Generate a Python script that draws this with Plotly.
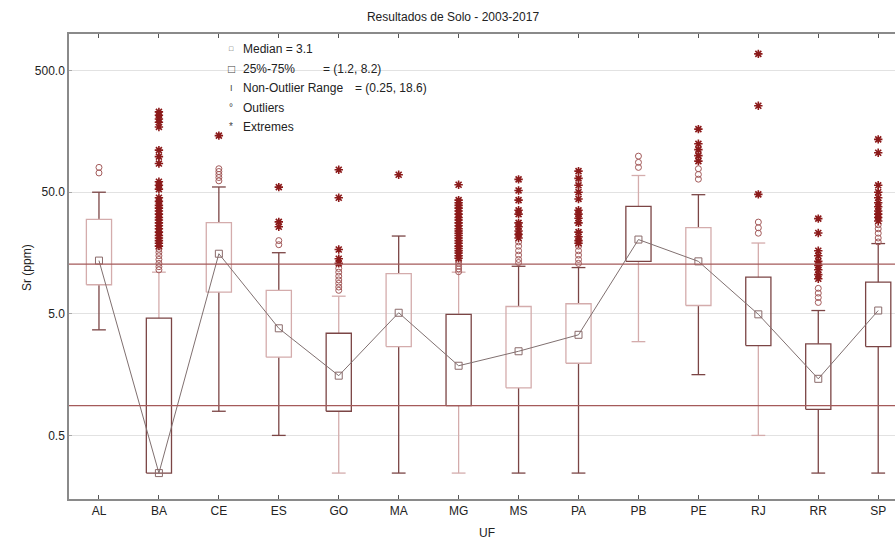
import plotly.graph_objects as go

# ---------------- data ----------------
categories = ["AL", "BA", "CE", "ES", "GO", "MA", "MG", "MS", "PA", "PB", "PE", "RJ", "RR", "SP"]

q1 = [8.67, 0.245, 7.53, 2.2, 0.79, 2.69, 0.88, 1.23, 1.96, 13.5, 5.85, 2.74, 0.82, 2.69]
medians = [13.7, 0.245, 15.6, 3.8, 1.55, 5.1, 1.87, 2.46, 3.36, 20.4, 13.5, 4.95, 1.46, 5.32]
q3 = [29.9, 4.6, 28.1, 7.78, 3.46, 10.7, 4.95, 5.74, 6.05, 38.3, 25.6, 10.0, 2.83, 9.1]
whisker_low = [3.69, 0.245, 0.79, 0.5, 0.245, 0.245, 0.245, 0.245, 0.245, 2.95, 1.58, 0.5, 0.245, 0.245]
whisker_high = [50.0, 11.0, 55.2, 15.9, 6.98, 21.8, 11.0, 12.3, 12.0, 68.6, 47.7, 19.1, 5.32, 18.9]

outliers = {
    "AL": [72, 80],
    "BA": [17, 16, 15, 14, 13, 12.2, 11.5],
    "CE": [62, 66, 70, 74, 78],
    "ES": [18.5, 20],
    "GO": [7.8, 8.3, 8.9, 9.5, 10.2, 11, 11.8],
    "MA": [],
    "MG": [13.7, 13, 12.3, 11.7, 11.1],
    "MS": [19.5, 18, 16.5, 15.2, 14, 13.2],
    "PA": [18, 16.5, 15.2, 14, 13],
    "PB": [99, 88, 80],
    "PE": [78, 70, 64],
    "RJ": [28.4, 25.5, 23],
    "RR": [8.1, 7.4, 6.8, 6.2],
    "SP": [27, 25, 23, 21, 19.5],
}

extremes = {
    "AL": [],
    "BA": [229, 215, 200, 188, 172, 111, 98, 86, 61, 57, 53, 45, 42, 39, 37, 35, 33, 31,
           29.5, 28, 26.5, 25, 23.5, 22, 21, 20, 19, 18],
    "CE": [146],
    "ES": [55, 28.5, 26],
    "GO": [76.6, 45, 16.9, 14.2, 13],
    "MA": [69.6],
    "MG": [57.6, 43, 41, 39, 37, 35, 33, 31, 29.5, 28, 26.5, 25, 24, 23, 22, 21, 20, 19, 18,
           17.2, 16.5, 15.8, 15, 14.3],
    "MS": [63.7, 51.7, 43, 35.5, 33, 28, 26, 24, 22.5, 21],
    "PA": [74.6, 65, 57, 50, 44, 35.5, 33, 30.5, 28, 23.5, 21.5, 20, 19],
    "PB": [],
    "PE": [165, 125, 112, 100, 90],
    "RJ": [686, 257, 48],
    "RR": [30.3, 23.1, 16.5, 15, 13.5, 12.5, 11.5, 10.5, 9.7],
    "SP": [136, 105.6, 57, 50, 45, 41, 38, 35, 33, 31, 29],
}

reference_lines = [12.8, 0.88]

y_tickvals = [0.5, 5, 50, 500]
y_ticktext = ["0.5", "5.0", "50.0", "500.0"]

legend_labels = ["Median = 3.1", "25%-75%", "Non-Outlier Range", "Outliers", "Extremes"]
legend_values = ["", "= (1.2, 8.2)", "= (0.25, 18.6)", "", ""]
legend_symbols = ["\u25A1", "\u25A1", "I", "\u00B0", "*"]

# ---------------- styles ----------------
DARK = "#7b4545"
LIGHT = "#d4acac"
box_colors = [LIGHT, DARK, LIGHT, LIGHT, DARK, LIGHT, DARK, LIGHT, LIGHT, DARK, LIGHT, DARK, DARK, DARK]
whisker_colors = [DARK, LIGHT, DARK, DARK, LIGHT, DARK, LIGHT, DARK, DARK, LIGHT, DARK, LIGHT, DARK, DARK]

FONT = "Liberation Sans, Arial, sans-serif"
W, H = 898, 541
L, T, B = 69, 34, 42
PW, PH = W - L, H - T - B
BOX_HALF = 0.21
CAP_HALF = 0.115


def px_x(x):
    return (x - L) / PW


def px_y(y):
    return 1 - (y - T) / PH


xpos = list(range(len(categories)))

fig = go.Figure()

# whiskers with caps (non-outlier range)
for i, c in enumerate(categories):
    wx = [xpos[i], xpos[i], None, xpos[i] - CAP_HALF, xpos[i] + CAP_HALF, None,
          xpos[i], xpos[i], None]
    wy = [q3[i], whisker_high[i], None, whisker_high[i], whisker_high[i], None,
          q1[i], whisker_low[i], None]
    if whisker_low[i] < q1[i]:
        wx += [xpos[i] - CAP_HALF, xpos[i] + CAP_HALF]
        wy += [whisker_low[i], whisker_low[i]]
    fig.add_trace(go.Scatter(
        x=wx, y=wy, mode="lines", line=dict(color=whisker_colors[i], width=1.3),
        showlegend=False, hoverinfo="skip",
    ))

# boxes (25%-75%)
for i, c in enumerate(categories):
    bx = [xpos[i] - BOX_HALF, xpos[i] + BOX_HALF, xpos[i] + BOX_HALF, xpos[i] - BOX_HALF, xpos[i] - BOX_HALF]
    by = [q1[i], q1[i], q3[i], q3[i], q1[i]]
    fig.add_trace(go.Scatter(
        x=bx, y=by, mode="lines", line=dict(color=box_colors[i], width=1.3),
        showlegend=False, hoverinfo="skip",
    ))

# outliers
ox, oy = [], []
for i, c in enumerate(categories):
    for v in outliers[c]:
        ox.append(xpos[i])
        oy.append(v)
fig.add_trace(go.Scatter(
    x=ox, y=oy, mode="markers",
    marker=dict(symbol="circle-open", size=6, color="#a35a5a", line=dict(width=1)),
    showlegend=False, hoverinfo="skip",
))

# extremes
ex, ey = [], []
for i, c in enumerate(categories):
    for v in extremes[c]:
        ex.append(xpos[i])
        ey.append(v)
fig.add_trace(go.Scatter(
    x=ex, y=ey, mode="markers",
    marker=dict(symbol="asterisk-open", size=7, color="#8b1a1a", line=dict(width=1.6, color="#8b1a1a")),
    showlegend=False, hoverinfo="skip",
))

# medians connected
fig.add_trace(go.Scatter(
    x=xpos, y=medians, mode="lines+markers",
    line=dict(color="#807070", width=1),
    marker=dict(symbol="square-open", size=7, color="#8a6a6a", line=dict(width=1)),
    showlegend=False, hoverinfo="skip",
))

# reference lines
for v in reference_lines:
    fig.add_shape(type="line", xref="paper", x0=0, x1=1, yref="y", y0=v, y1=v,
                  line=dict(color="#a45a5a", width=1.3), layer="above")

# legend-like annotations
leg_y = [49, 68.5, 88, 107.5, 127]
for k in range(len(legend_labels)):
    yp = px_y(leg_y[k])
    fig.add_annotation(xref="paper", yref="paper", x=px_x(231), y=yp,
                       text=legend_symbols[k], showarrow=False, xanchor="center", yanchor="middle",
                       font=dict(family=FONT, size=[7, 12, 9, 10, 10][k], color="#444"))
    fig.add_annotation(xref="paper", yref="paper", x=px_x(241), y=yp,
                       text=legend_labels[k], showarrow=False, xanchor="left", yanchor="middle",
                       font=dict(family=FONT, size=12, color="#222"))
    if legend_values[k]:
        xv = 321 if k == 1 else 353
        fig.add_annotation(xref="paper", yref="paper", x=px_x(xv), y=yp,
                           text=legend_values[k], showarrow=False, xanchor="left", yanchor="middle",
                           font=dict(family=FONT, size=12, color="#222"))

# axis titles
fig.add_annotation(xref="paper", yref="paper", x=px_x(487), y=px_y(533), text="UF",
                   showarrow=False, xanchor="center", yanchor="middle",
                   font=dict(family=FONT, size=12, color="#222"))
fig.add_annotation(xref="paper", yref="paper", x=px_x(27), y=px_y(268), text="Sr (ppm)",
                   textangle=-90, showarrow=False, xanchor="center", yanchor="middle",
                   font=dict(family=FONT, size=12, color="#222"))

fig.update_layout(
    width=W, height=H,
    margin=dict(l=L, r=0, t=T, b=B, autoexpand=False),
    paper_bgcolor="white", plot_bgcolor="white",
    font=dict(family=FONT, size=12, color="#222"),
    title=dict(text="Resultados de Solo - 2003-2017", x=453 / W, xanchor="center",
               y=1 - 17 / H, yanchor="middle", font=dict(family=FONT, size=12, color="#222")),
)

fig.update_xaxes(
    range=[-0.5, 13.33], automargin=False,
    tickvals=xpos, ticktext=categories,
    showline=True, linecolor="#8a8a8a", linewidth=1.5, mirror="ticks",
    ticks="inside", ticklen=4, tickcolor="#555", showgrid=False, zeroline=False,
    tickfont=dict(family=FONT, size=12, color="#222"),
)

fig.update_yaxes(
    type="log", range=[-0.824, 3.0], automargin=False,
    tickvals=y_tickvals, ticktext=y_ticktext,
    showline=True, linecolor="#8a8a8a", linewidth=1.5, mirror=False,
    ticks="inside", ticklen=3, tickcolor="#aaa",
    showgrid=True, gridcolor="#e2e2e2", gridwidth=1, zeroline=False,
    tickfont=dict(family=FONT, size=12, color="#222"),
)

fig.write_html(
    "out.html",
    config={"displayModeBar": False},
    post_script="document.body.style.margin='0';document.body.style.overflow='hidden';",
)
